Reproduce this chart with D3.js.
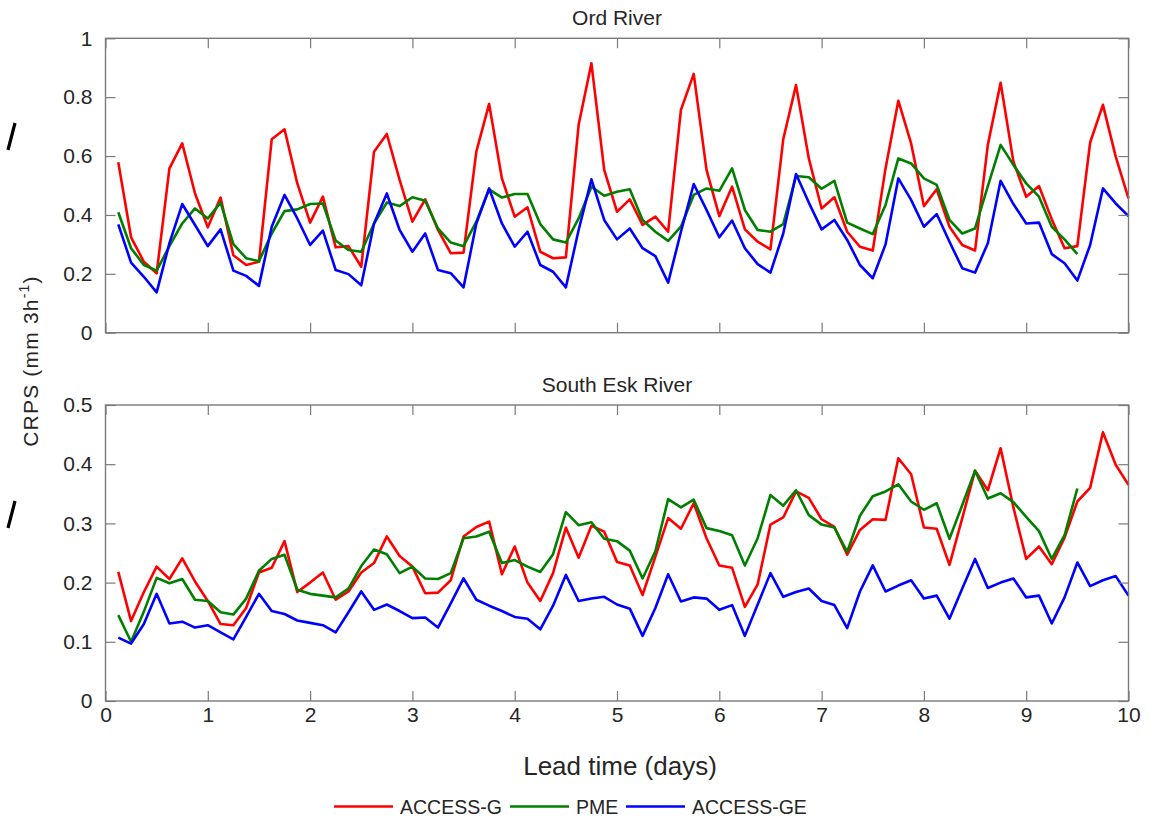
<!DOCTYPE html>
<html>
<head>
<meta charset="utf-8">
<script src="https://cdn.jsdelivr.net/npm/d3@7"></script>
<style>
  body { margin: 0; background: #fff; }
  svg text { font-family: "Liberation Sans", Arial, Helvetica, sans-serif; fill: #262626; }
</style>
</head>
<body>
<svg id="chart" width="1153" height="820"></svg>
<script>
// 3-hourly lead times
const leadTime = d3.range(1, 81).map(i => i * 0.125);

const ordAccessG = [0.579, 0.324, 0.241, 0.202, 0.558, 0.643, 0.473, 0.358, 0.459, 0.263,
    0.230, 0.241, 0.657, 0.691, 0.507, 0.374, 0.462, 0.290, 0.294, 0.224,
    0.615, 0.675, 0.519, 0.377, 0.453, 0.349, 0.270, 0.272, 0.615, 0.777,
    0.524, 0.394, 0.426, 0.275, 0.253, 0.256, 0.706, 0.915, 0.553, 0.411,
    0.453, 0.366, 0.394, 0.343, 0.757, 0.879, 0.553, 0.396, 0.496, 0.351,
    0.309, 0.283, 0.657, 0.841, 0.592, 0.422, 0.460, 0.343, 0.292, 0.279,
    0.558, 0.788, 0.643, 0.430, 0.487, 0.360, 0.298, 0.279, 0.638, 0.849,
    0.581, 0.462, 0.498, 0.385, 0.287, 0.294, 0.646, 0.774, 0.598, 0.456];

const ordPME = [0.409, 0.287, 0.230, 0.211, 0.294, 0.371, 0.422, 0.388, 0.442, 0.301,
    0.253, 0.243, 0.337, 0.413, 0.419, 0.437, 0.439, 0.313, 0.281, 0.275,
    0.371, 0.442, 0.430, 0.460, 0.448, 0.354, 0.306, 0.294, 0.377, 0.487,
    0.459, 0.471, 0.471, 0.369, 0.317, 0.306, 0.388, 0.496, 0.465, 0.479,
    0.487, 0.383, 0.343, 0.312, 0.360, 0.468, 0.490, 0.482, 0.558, 0.417,
    0.349, 0.343, 0.369, 0.532, 0.528, 0.489, 0.516, 0.374, 0.354, 0.335,
    0.434, 0.592, 0.575, 0.524, 0.502, 0.383, 0.337, 0.354, 0.498, 0.638,
    0.570, 0.507, 0.462, 0.360, 0.317, 0.267];

const ordAccessGE = [0.368, 0.238, 0.190, 0.137, 0.304, 0.437, 0.366, 0.294, 0.351, 0.211,
    0.193, 0.159, 0.360, 0.468, 0.388, 0.298, 0.347, 0.213, 0.199, 0.161,
    0.371, 0.473, 0.349, 0.275, 0.337, 0.213, 0.202, 0.154, 0.371, 0.490,
    0.371, 0.292, 0.343, 0.230, 0.207, 0.154, 0.349, 0.521, 0.383, 0.317,
    0.354, 0.287, 0.260, 0.170, 0.343, 0.505, 0.417, 0.324, 0.381, 0.287,
    0.233, 0.204, 0.337, 0.539, 0.442, 0.351, 0.383, 0.315, 0.230, 0.185,
    0.300, 0.524, 0.451, 0.360, 0.403, 0.309, 0.219, 0.204, 0.304, 0.516,
    0.437, 0.371, 0.374, 0.267, 0.236, 0.177, 0.298, 0.490, 0.439, 0.396];

const eskAccessG = [0.218, 0.135, 0.184, 0.227, 0.206, 0.241, 0.202, 0.169, 0.130, 0.128,
    0.157, 0.217, 0.225, 0.270, 0.184, 0.200, 0.217, 0.171, 0.185, 0.217,
    0.233, 0.278, 0.245, 0.227, 0.182, 0.183, 0.204, 0.278, 0.294, 0.303,
    0.214, 0.261, 0.200, 0.169, 0.216, 0.293, 0.242, 0.296, 0.286, 0.235,
    0.229, 0.179, 0.244, 0.309, 0.291, 0.334, 0.275, 0.229, 0.225, 0.159,
    0.197, 0.298, 0.310, 0.354, 0.343, 0.307, 0.294, 0.247, 0.289, 0.307,
    0.306, 0.410, 0.383, 0.293, 0.291, 0.230, 0.309, 0.389, 0.356, 0.427,
    0.327, 0.240, 0.261, 0.231, 0.276, 0.337, 0.360, 0.454, 0.399, 0.365];

const eskPME = [0.145, 0.100, 0.151, 0.208, 0.199, 0.206, 0.171, 0.169, 0.150, 0.146,
    0.173, 0.220, 0.240, 0.247, 0.188, 0.181, 0.178, 0.175, 0.190, 0.228,
    0.256, 0.248, 0.216, 0.227, 0.207, 0.206, 0.216, 0.275, 0.278, 0.286,
    0.233, 0.238, 0.227, 0.218, 0.248, 0.319, 0.297, 0.302, 0.274, 0.270,
    0.254, 0.207, 0.253, 0.341, 0.327, 0.340, 0.292, 0.287, 0.280, 0.229,
    0.275, 0.348, 0.330, 0.356, 0.314, 0.298, 0.293, 0.252, 0.313, 0.346,
    0.354, 0.366, 0.337, 0.323, 0.334, 0.274, 0.331, 0.389, 0.342, 0.351,
    0.336, 0.311, 0.287, 0.240, 0.280, 0.359];

const eskAccessGE = [0.107, 0.097, 0.130, 0.181, 0.131, 0.134, 0.124, 0.128, 0.116, 0.104,
    0.142, 0.181, 0.152, 0.147, 0.136, 0.132, 0.128, 0.116, 0.150, 0.185,
    0.154, 0.163, 0.152, 0.140, 0.141, 0.124, 0.165, 0.207, 0.171, 0.161,
    0.152, 0.142, 0.139, 0.121, 0.161, 0.213, 0.169, 0.173, 0.176, 0.163,
    0.156, 0.110, 0.157, 0.214, 0.168, 0.175, 0.173, 0.154, 0.162, 0.110,
    0.163, 0.216, 0.176, 0.184, 0.190, 0.169, 0.162, 0.123, 0.185, 0.229,
    0.185, 0.195, 0.204, 0.173, 0.178, 0.139, 0.190, 0.240, 0.191, 0.200,
    0.207, 0.175, 0.178, 0.131, 0.175, 0.234, 0.194, 0.204, 0.211, 0.178];

const seriesNames = ["ACCESS-G", "PME", "ACCESS-GE"];
const seriesColors = ["#ff0000", "#007f00", "#0000ff"];

const xTicks = [0, 1, 2, 3, 4, 5, 6, 7, 8, 9, 10];
const xTickLabels = ["0", "1", "2", "3", "4", "5", "6", "7", "8", "9", "10"];
const ordTicks = [0, 0.2, 0.4, 0.6, 0.8, 1];
const ordTickLabels = ["0", "0.2", "0.4", "0.6", "0.8", "1"];
const eskTicks = [0, 0.1, 0.2, 0.3, 0.4, 0.5];
const eskTickLabels = ["0", "0.1", "0.2", "0.3", "0.4", "0.5"];

const svg = d3.select("#chart");
const axisColor = "#7a7a7a";

const x = d3.scaleLinear().domain([0, 10]).range([105.5, 1128.5]);

const panels = [
    { title: "Ord River", top: 38.3, bottom: 332.7, max: 1,
      ticks: ordTicks, labels: ordTickLabels, showX: false,
      series: [ordAccessG, ordPME, ordAccessGE] },
    { title: "South Esk River", top: 405, bottom: 701, max: 0.5,
      ticks: eskTicks, labels: eskTickLabels, showX: true,
      series: [eskAccessG, eskPME, eskAccessGE] }
];

function styleAxis(g) {
    g.select(".domain").remove();
    g.selectAll(".tick line").attr("stroke", axisColor).attr("stroke-width", 1.2);
    g.selectAll(".tick text")
        .attr("fill", "#262626")
        .style("font-size", "21px")
        .style("font-family", '"Liberation Sans", Arial, sans-serif');
}

function drawPanel(p) {
    const y = d3.scaleLinear().domain([0, p.max]).range([p.bottom, p.top]);
    const g = svg.append("g");

    g.append("rect")
        .attr("x", x(0)).attr("y", p.top)
        .attr("width", x(10) - x(0)).attr("height", p.bottom - p.top)
        .attr("fill", "#fff");

    const lineGen = d3.line()
        .x((d, i) => x(leadTime[i]))
        .y(d => y(d));

    p.series.forEach((vals, k) => {
        g.append("path")
            .datum(vals)
            .attr("fill", "none")
            .attr("stroke", seriesColors[k])
            .attr("stroke-width", 2.6)
            .attr("stroke-linejoin", "round")
            .attr("d", lineGen);
    });

    g.append("g")
        .attr("transform", `translate(${x(0)},0)`)
        .call(d3.axisLeft(y).tickValues(p.ticks).tickSize(-10).tickPadding(13)
            .tickFormat((d, i) => p.labels[i]))
        .call(styleAxis);

    g.append("g")
        .attr("transform", `translate(${x(10)},0)`)
        .call(d3.axisRight(y).tickValues(p.ticks).tickSize(-10).tickFormat(""))
        .call(styleAxis);

    g.append("g")
        .attr("transform", `translate(0,${p.top})`)
        .call(d3.axisTop(x).tickValues(xTicks).tickSize(-10).tickFormat(""))
        .call(styleAxis);

    g.append("g")
        .attr("transform", `translate(0,${p.bottom})`)
        .call(d3.axisBottom(x).tickValues(xTicks).tickSize(-10).tickPadding(6)
            .tickFormat((d, i) => p.showX ? xTickLabels[i] : ""))
        .call(styleAxis);

    g.append("rect")
        .attr("x", x(0)).attr("y", p.top)
        .attr("width", x(10) - x(0)).attr("height", p.bottom - p.top)
        .attr("fill", "none")
        .attr("stroke", axisColor)
        .attr("stroke-width", 1.4);

    g.append("text")
        .attr("x", (x(0) + x(10)) / 2)
        .attr("y", p.top - 13)
        .attr("text-anchor", "middle")
        .style("font-size", "21px")
        .text(p.title);
}

panels.forEach(drawPanel);

// x label
svg.append("text")
    .attr("x", 620)
    .attr("y", 775)
    .attr("text-anchor", "middle")
    .style("font-size", "26px")
    .text("Lead time (days)");

// y label
const yLabel = svg.append("text")
    .attr("transform", "translate(38,361) rotate(-90)")
    .attr("text-anchor", "middle")
    .style("font-size", "21px")
    .style("letter-spacing", "1.2px");
yLabel.append("tspan").text("CRPS (mm 3h");
yLabel.append("tspan").attr("dy", -9).style("font-size", "14px").text("-1");
yLabel.append("tspan").attr("dy", 9).text(")");

// legend
const legendX = [334, 510, 626];
const legend = svg.append("g");
seriesNames.forEach((name, k) => {
    legend.append("line")
        .attr("x1", legendX[k]).attr("x2", legendX[k] + 59)
        .attr("y1", 806.5).attr("y2", 806.5)
        .attr("stroke", seriesColors[k])
        .attr("stroke-width", 2.6);
    legend.append("text")
        .attr("x", legendX[k] + 66)
        .attr("y", 813.5)
        .style("font-size", "19.5px")
        .attr("fill", "#000")
        .text(name);
});

// stray marks at the left edge of the source image
svg.append("path").attr("d", "M15,123 L8,150").attr("stroke", "#000").attr("stroke-width", 3.2);
svg.append("path").attr("d", "M15,501 L8,528").attr("stroke", "#000").attr("stroke-width", 3.2);
</script>
</body>
</html>
